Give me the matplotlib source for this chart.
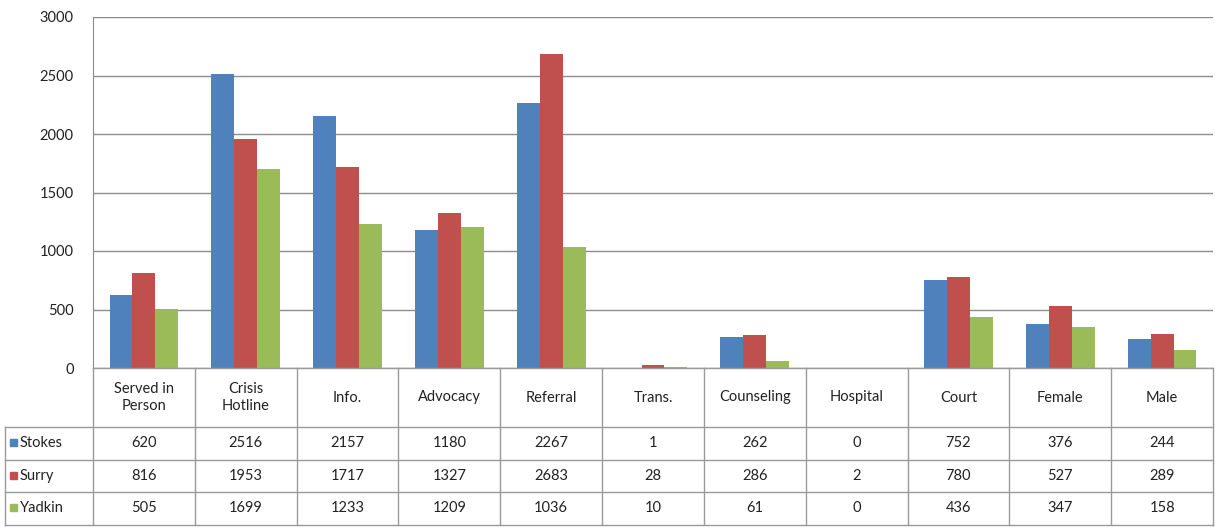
import matplotlib
matplotlib.use("Agg")
import matplotlib.pyplot as plt
import numpy as np

categories = ["Served in\nPerson", "Crisis\nHotline", "Info.", "Advocacy", "Referral",
              "Trans.", "Counseling", "Hospital", "Court", "Female", "Male"]
series_names = ["Stokes", "Surry", "Yadkin"]
stokes = [620, 2516, 2157, 1180, 2267, 1, 262, 0, 752, 376, 244]
surry = [816, 1953, 1717, 1327, 2683, 28, 286, 2, 780, 527, 289]
yadkin = [505, 1699, 1233, 1209, 1036, 10, 61, 0, 436, 347, 158]
yticks = [0, 500, 1000, 1500, 2000, 2500, 3000]

colors = ["#4F81BD", "#C0504D", "#9BBB59"]
plt.rcParams['font.family'] = ['Lato', 'DejaVu Sans']
W, H = 1215, 527
fig = plt.figure(figsize=(W / 100, H / 100), dpi=100)

L, R, T, B = 93, 1213, 17, 368
ax = fig.add_axes([L / W, 1 - B / H, (R - L) / W, (B - T) / H])
n = len(categories)
x = np.arange(n)
bw = 0.225
for i, (vals, c) in enumerate(zip([stokes, surry, yadkin], colors)):
    ax.bar(x + (i - 1) * bw, vals, bw, color=c, zorder=3, linewidth=0)
ax.set_xlim(-0.5, n - 0.5)
ax.set_ylim(0, 3000)
ax.set_yticks(yticks)
ax.set_yticklabels([str(v) for v in yticks], fontsize=10.5, color="#222222")
ax.tick_params(axis='y', length=0, pad=14)
ax.set_xticks([])
ax.grid(axis='y', color="#8c8c8c", linewidth=1, zorder=0)
for s in ["top", "right", "bottom"]:
    ax.spines[s].set_visible(False)
ax.spines["left"].set_color("#8c8c8c")

# data table overlay
ov = fig.add_axes([0, 0, 1, 1])
ov.set_xlim(0, W)
ov.set_ylim(H, 0)
ov.axis("off")
lc = "#9a9a9a"
cw = (R - L) / n
rows = [427, 459.5, 492, 524.5]
ov.plot([L, R], [B, B], color=lc, lw=1)
for yy in rows:
    ov.plot([5, R], [yy, yy], color=lc, lw=1)
ov.plot([5, 5], [rows[0], rows[-1]], color=lc, lw=1)
for j in range(n + 1):
    ov.plot([L + j * cw, L + j * cw], [B, rows[-1]], color=lc, lw=1)
for j, cat in enumerate(categories):
    ov.text(L + (j + 0.5) * cw, (B + rows[0]) / 2, cat, ha="center", va="center",
            fontsize=10.5, color="#222222", linespacing=1.25)
for r, (name, vals, c) in enumerate(zip(series_names, [stokes, surry, yadkin], colors)):
    yc = (rows[r] + rows[r + 1]) / 2
    ov.add_patch(plt.Rectangle((10, yc - 4), 7, 7, color=c))
    ov.text(20, yc, name, ha="left", va="center", fontsize=10.5, color="#222222")
    for j, v in enumerate(vals):
        ov.text(L + (j + 0.5) * cw, yc, str(v), ha="center", va="center",
                fontsize=10.5, color="#222222")

fig.savefig("out.png", dpi=100)
